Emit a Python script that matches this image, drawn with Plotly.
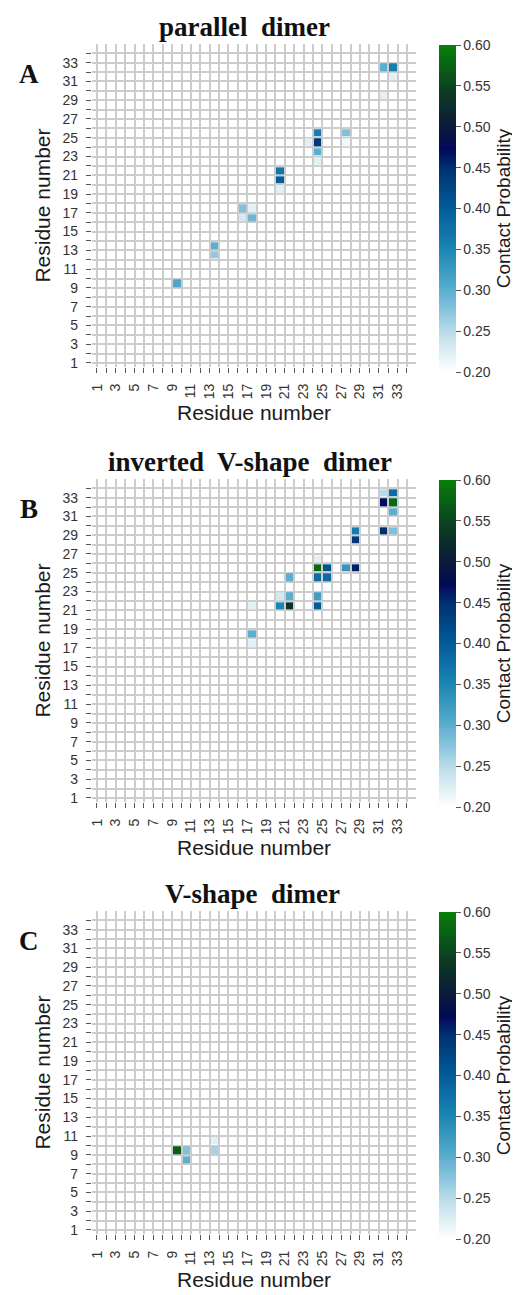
import plotly.graph_objects as go

# ---------------- data ----------------
residues = list(range(1, 35))
tick_labels = [str(r) if r % 2 == 1 else "" for r in residues]

# panel A: parallel dimer  (column residue, row residue, contact probability)
a_col = [9, 13, 13, 16, 17, 16, 17, 20, 20, 20, 23, 24, 24, 24, 24, 27, 27, 31, 32, 32, 31]
a_row = [9, 13, 12, 17, 17, 16, 16, 21, 20, 19, 24, 25, 24, 23, 22, 25, 24, 32, 32, 31, 29]
a_val = [0.31, 0.30, 0.27, 0.28, 0.22, 0.23, 0.29, 0.37, 0.40, 0.22, 0.22, 0.36, 0.44, 0.30, 0.22,
         0.28, 0.21, 0.30, 0.36, 0.22, 0.22]

# panel B: inverted V-shape dimer
b_col = [17, 17, 17, 20, 20, 21, 21, 21, 24, 24, 24, 24, 24, 25, 25, 27, 28, 28, 28,
         31, 32, 31, 32, 32, 31, 32]
b_row = [21, 18, 17, 22, 21, 24, 22, 21, 26, 25, 24, 22, 21, 25, 24, 25, 25, 29, 28,
         33, 33, 32, 32, 31, 29, 29]
b_val = [0.22, 0.30, 0.22, 0.23, 0.35, 0.30, 0.30, 0.53, 0.22, 0.58, 0.38, 0.32, 0.40, 0.41, 0.38,
         0.33, 0.46, 0.36, 0.44, 0.25, 0.38, 0.47, 0.58, 0.30, 0.45, 0.28]

# panel C: V-shape dimer
c_col = [9, 10, 10, 13, 13]
c_row = [9, 9, 8, 9, 10]
c_val = [0.57, 0.28, 0.30, 0.26, 0.22]

titles = ["parallel\u00a0 dimer", "inverted\u00a0 V-shape\u00a0 dimer", "V-shape\u00a0 dimer"]
letters = ["A", "B", "C"]
cbar_ticks = [0.20, 0.25, 0.30, 0.35, 0.40, 0.45, 0.50, 0.55, 0.60]

colorscale = [
    [0.0, "#ffffff"],
    [0.125, "#b8dbe9"],
    [0.25, "#5aaed0"],
    [0.375, "#1a86b5"],
    [0.5, "#035c98"],
    [0.625, "#003070"],
    [0.68, "#000a5a"],
    [0.75, "#0d1a3a"],
    [0.85, "#0a3a25"],
    [1.0, "#088008"],
]

# the page body has an 8px margin: the figure is sized/positioned to compensate
PAD = 8
W, H = 520 - PAD, 1295 - PAD
offsets = [0, 435, 867]
title_x = [244, 250, 252]


def px_x(v):
    return (v - PAD) / W


def px_y(v):
    return 1 - (v - PAD) / H


def grid(cols, rows, vals):
    n = len(residues) - 1
    z = [[None] * n for _ in range(n)]
    for c, r, v in zip(cols, rows, vals):
        z[r - 1][c - 1] = v
    centers = [r + 0.5 for r in residues[:-1]]
    return centers, z


SANS = "Liberation Sans, Arial, sans-serif"
SERIF = "Liberation Serif, Times New Roman, serif"

fig = go.Figure()
panels = [(a_col, a_row, a_val), (b_col, b_row, b_val), (c_col, c_row, c_val)]

for i, (cols, rows, vals) in enumerate(panels):
    off = offsets[i]
    centers, z = grid(cols, rows, vals)
    sfx = "" if i == 0 else str(i + 1)
    fig.add_trace(go.Heatmap(
        x=centers, y=centers, z=z,
        xaxis="x" + sfx, yaxis="y" + sfx,
        coloraxis="coloraxis" + sfx,
        xgap=2, ygap=2, hoverongaps=False,
    ))
    ydom = [px_y(367.2 + off), px_y(43.9 + off)]
    xdom = [px_x(91.8), px_x(416.3)]
    axfont = dict(family=SANS, size=14, color="#333333")
    common = dict(
        tickvals=residues, ticktext=tick_labels, ticks="outside", ticklen=5,
        tickcolor="#555555", tickwidth=1.2, showgrid=True, gridcolor="#cccccc", gridwidth=2,
        zeroline=False, showline=False, tickfont=axfont, automargin=False,
        fixedrange=True,
    )
    fig.update_layout(**{
        "xaxis" + sfx: dict(
            domain=xdom, range=[0.45, 35], anchor="y" + sfx, tickangle=-90,
            ticklabelstandoff=5,
            title=dict(text="Residue number", standoff=6,
                       font=dict(family=SANS, size=21, color="#1a1a1a")),
            **common),
        "yaxis" + sfx: dict(
            domain=ydom, range=[0.55, 35], anchor="x" + sfx,
            ticklabelstandoff=5,
            title=dict(text="Residue number", standoff=6,
                       font=dict(family=SANS, size=21, color="#1a1a1a")),
            **common),
        "coloraxis" + sfx: dict(
            cmin=0.2, cmax=0.6, colorscale=colorscale,
            colorbar=dict(
                thickness=17, lenmode="pixels", len=327, y=px_y(45 + off), yanchor="top",
                ypad=0, x=px_x(439), xanchor="left", xpad=0, ticks="outside", ticklen=5,
                tickcolor="#555555", tickvals=cbar_ticks, tickformat=".2f",
                tickfont=dict(family=SANS, size=14, color="#333333"),
                title=dict(text="Contact Probability", side="right",
                           font=dict(family=SANS, size=19, color="#1a1a1a")),
                outlinewidth=0,
            )),
    })
    fig.add_annotation(x=px_x(title_x[i]), y=px_y(27 + off), xref="paper", yref="paper",
                       xanchor="center", yanchor="middle",
                       text="<b>" + titles[i] + "</b>", showarrow=False,
                       font=dict(family=SERIF, size=27, color="#111111"))
    fig.add_annotation(x=px_x(29), y=px_y(74 + off), xref="paper", yref="paper",
                       xanchor="center", yanchor="middle",
                       text="<b>" + letters[i] + "</b>", showarrow=False,
                       font=dict(family=SERIF, size=27, color="#111111"))

fig.update_layout(width=W, height=H, autosize=False, margin=dict(l=0, r=0, t=0, b=0),
                  paper_bgcolor="white", plot_bgcolor="white", showlegend=False)
fig.write_html("out.html")
